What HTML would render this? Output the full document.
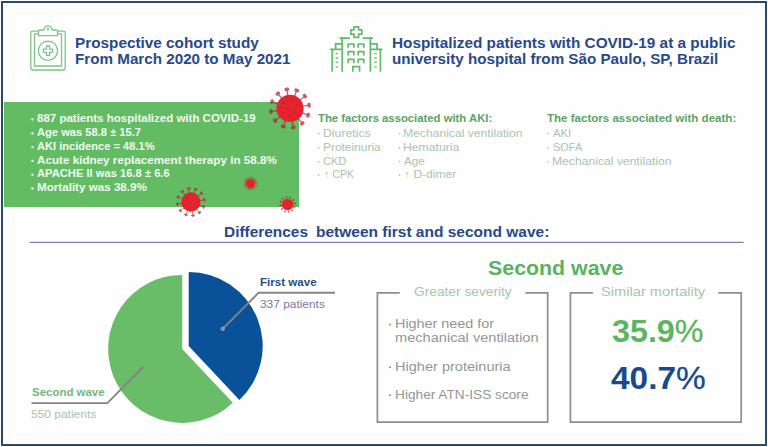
<!DOCTYPE html>
<html><head><meta charset="utf-8">
<style>
html,body{margin:0;padding:0;}
body{width:768px;height:447px;position:relative;overflow:hidden;background:#fefefe;font-family:"Liberation Sans",sans-serif;}
.tx{position:absolute;white-space:nowrap;line-height:1;transform-origin:0 0;}
#frame{position:absolute;left:1px;top:1px;width:761.8px;height:440.9px;border:2px solid #28496c;}
#gbox{position:absolute;left:4px;top:102px;width:294.5px;height:105px;background:#63bb64;}
svg.ov{position:absolute;left:0;top:0;}
.pc{font-weight:normal;-webkit-text-stroke:0.3px currentColor;}
</style></head><body>
<div id="frame"></div>
<div id="gbox"></div>
<svg class="ov" width="768" height="447" viewBox="0 0 768 447">
<defs></defs>
<!-- clipboard icon -->
<g fill="none" stroke="#7cc588" stroke-width="1.3" stroke-linejoin="round" stroke-linecap="round">
<path d="M38.4 31.2 H32.5 Q30.8 31.2 30.8 33 V68.2 Q30.8 70 32.5 70 H63.5 Q65.2 70 65.2 68.2 V33 Q65.2 31.2 63.5 31.2 H57.6"/>
<path d="M38.4 33.8 H34.5 V66 H61.5 V33.8 H57.6"/>
<path d="M38.4 35.6 V31.6 Q38.4 30 40 30 H44 Q44.3 25.8 48 25.8 Q51.7 25.8 52 30 H56 Q57.6 30 57.6 31.6 V35.6 Z"/>
<circle cx="48" cy="29" r="0.6"/>
<circle cx="48" cy="50.7" r="9.6"/>
<path d="M46.4 46 H49.6 V49.1 H52.7 V52.3 H49.6 V55.4 H46.4 V52.3 H43.3 V49.1 H46.4 Z"/>
</g>
<!-- hospital icon -->
<g fill="none" stroke="#62b96c" stroke-width="1.7" stroke-linejoin="miter" stroke-linecap="square">
<path d="M354 26.8 H358.6 V29.8 H361.8 V34.2 H358.6 V37.4 H354 V34.2 H350.8 V29.8 H354 Z" stroke-linejoin="round"/>
<path d="M349 38.2 H342.2 V71 M363.6 38.2 H370.4 V71"/>
<path d="M340.4 38.2 H342 M370.6 38.2 H372.2"/>
<path d="M342 43.8 H335.6 V49.4 M331 49.4 H342 M332.2 49.4 V71"/>
<path d="M370.6 43.8 H377 V49.4 M370.6 49.4 H381.6 M380.4 49.4 V71"/>
<path d="M348.2 47 V44 H353.8 V47 M358.2 47 V44 H363.8 V47"/>
<path d="M348.2 54.6 V51.6 H353.8 V54.6 M358.2 54.6 V51.6 H363.8 V54.6"/>
<path d="M348.2 62.4 V59.4 H353.8 V62.4 M358.2 62.4 V59.4 H363.8 V62.4"/>
<path d="M352.8 71 V66.6 H359.6 V71"/>
<path d="M336.2 53.6 H337.4 M336.2 58 H337.4 M336.2 62.4 H337.4 M336.2 66.8 H337.4 M375 53.6 H376.2 M375 58 H376.2 M375 62.4 H376.2 M375 66.8 H376.2" stroke-width="1.3"/>
</g>
<g transform="translate(290 108.4)"><g transform="scale(1.0000)"><g stroke="#b31f30" stroke-width="1.25" fill="#b31f30" stroke-linecap="round" opacity="0.72"><line x1="-2.15" y1="-12.82" x2="-3.19" y2="-19.04"/><ellipse cx="-3.19" cy="-19.04" rx="1.9" ry="1.15" transform="rotate(-9.5 -3.19 -19.04)"/><line x1="4.55" y1="-12.18" x2="6.76" y2="-18.08"/><ellipse cx="6.76" cy="-18.08" rx="1.9" ry="1.15" transform="rotate(20.5 6.76 -18.08)"/><line x1="10.03" y1="-8.27" x2="14.89" y2="-12.28"/><ellipse cx="14.89" cy="-12.28" rx="1.9" ry="1.15" transform="rotate(50.5 14.89 -12.28)"/><line x1="12.82" y1="-2.15" x2="19.04" y2="-3.19"/><ellipse cx="19.04" cy="-3.19" rx="1.9" ry="1.15" transform="rotate(80.5 19.04 -3.19)"/><line x1="12.18" y1="4.55" x2="18.08" y2="6.76"/><ellipse cx="18.08" cy="6.76" rx="1.9" ry="1.15" transform="rotate(110.5 18.08 6.76)"/><line x1="8.27" y1="10.03" x2="12.28" y2="14.89"/><ellipse cx="12.28" cy="14.89" rx="1.9" ry="1.15" transform="rotate(140.5 12.28 14.89)"/><line x1="2.15" y1="12.82" x2="3.19" y2="19.04"/><ellipse cx="3.19" cy="19.04" rx="1.9" ry="1.15" transform="rotate(170.5 3.19 19.04)"/><line x1="-4.55" y1="12.18" x2="-6.76" y2="18.08"/><ellipse cx="-6.76" cy="18.08" rx="1.9" ry="1.15" transform="rotate(200.5 -6.76 18.08)"/><line x1="-10.03" y1="8.27" x2="-14.89" y2="12.28"/><ellipse cx="-14.89" cy="12.28" rx="1.9" ry="1.15" transform="rotate(230.5 -14.89 12.28)"/><line x1="-12.82" y1="2.15" x2="-19.04" y2="3.19"/><ellipse cx="-19.04" cy="3.19" rx="1.9" ry="1.15" transform="rotate(260.5 -19.04 3.19)"/><line x1="-12.18" y1="-4.55" x2="-18.08" y2="-6.76"/><ellipse cx="-18.08" cy="-6.76" rx="1.9" ry="1.15" transform="rotate(290.5 -18.08 -6.76)"/><line x1="-8.27" y1="-10.03" x2="-12.28" y2="-14.89"/><ellipse cx="-12.28" cy="-14.89" rx="1.9" ry="1.15" transform="rotate(320.5 -12.28 -14.89)"/></g></g><g transform="scale(1.0000)"><circle r="13.6" fill="#e6242e"/><g fill="#c81f29"><circle cx="-6" cy="-6" r="1.2"/><circle cx="2" cy="-8" r="1.0"/><circle cx="7" cy="-3" r="1.1"/><circle cx="-2" cy="0" r="1.2"/><circle cx="5" cy="4" r="1.1"/><circle cx="-7" cy="4" r="1.0"/><circle cx="0" cy="8" r="1.1"/><circle cx="-9" cy="-1" r="0.8"/><circle cx="9" cy="7" r="0.8"/><circle cx="-3" cy="-11" r="0.7"/><circle cx="4" cy="10" r="0.7"/></g></g></g><g transform="translate(190.9 202.0)"><g transform="scale(0.7094)"><g stroke="#b31f30" stroke-width="1.25" fill="#b31f30" stroke-linecap="round" opacity="0.72"><line x1="-2.15" y1="-12.82" x2="-3.19" y2="-19.04"/><ellipse cx="-3.19" cy="-19.04" rx="1.9" ry="1.15" transform="rotate(-9.5 -3.19 -19.04)"/><line x1="4.55" y1="-12.18" x2="6.76" y2="-18.08"/><ellipse cx="6.76" cy="-18.08" rx="1.9" ry="1.15" transform="rotate(20.5 6.76 -18.08)"/><line x1="10.03" y1="-8.27" x2="14.89" y2="-12.28"/><ellipse cx="14.89" cy="-12.28" rx="1.9" ry="1.15" transform="rotate(50.5 14.89 -12.28)"/><line x1="12.82" y1="-2.15" x2="19.04" y2="-3.19"/><ellipse cx="19.04" cy="-3.19" rx="1.9" ry="1.15" transform="rotate(80.5 19.04 -3.19)"/><line x1="12.18" y1="4.55" x2="18.08" y2="6.76"/><ellipse cx="18.08" cy="6.76" rx="1.9" ry="1.15" transform="rotate(110.5 18.08 6.76)"/><line x1="8.27" y1="10.03" x2="12.28" y2="14.89"/><ellipse cx="12.28" cy="14.89" rx="1.9" ry="1.15" transform="rotate(140.5 12.28 14.89)"/><line x1="2.15" y1="12.82" x2="3.19" y2="19.04"/><ellipse cx="3.19" cy="19.04" rx="1.9" ry="1.15" transform="rotate(170.5 3.19 19.04)"/><line x1="-4.55" y1="12.18" x2="-6.76" y2="18.08"/><ellipse cx="-6.76" cy="18.08" rx="1.9" ry="1.15" transform="rotate(200.5 -6.76 18.08)"/><line x1="-10.03" y1="8.27" x2="-14.89" y2="12.28"/><ellipse cx="-14.89" cy="12.28" rx="1.9" ry="1.15" transform="rotate(230.5 -14.89 12.28)"/><line x1="-12.82" y1="2.15" x2="-19.04" y2="3.19"/><ellipse cx="-19.04" cy="3.19" rx="1.9" ry="1.15" transform="rotate(260.5 -19.04 3.19)"/><line x1="-12.18" y1="-4.55" x2="-18.08" y2="-6.76"/><ellipse cx="-18.08" cy="-6.76" rx="1.9" ry="1.15" transform="rotate(290.5 -18.08 -6.76)"/><line x1="-8.27" y1="-10.03" x2="-12.28" y2="-14.89"/><ellipse cx="-12.28" cy="-14.89" rx="1.9" ry="1.15" transform="rotate(320.5 -12.28 -14.89)"/></g></g><g transform="scale(0.7094)"><circle r="13.6" fill="#e6242e"/><g fill="#c81f29"><circle cx="-6" cy="-6" r="1.2"/><circle cx="2" cy="-8" r="1.0"/><circle cx="7" cy="-3" r="1.1"/><circle cx="-2" cy="0" r="1.2"/><circle cx="5" cy="4" r="1.1"/><circle cx="-7" cy="4" r="1.0"/><circle cx="0" cy="8" r="1.1"/><circle cx="-9" cy="-1" r="0.8"/><circle cx="9" cy="7" r="0.8"/><circle cx="-3" cy="-11" r="0.7"/><circle cx="4" cy="10" r="0.7"/></g></g></g><g transform="translate(250.5 183.5)"><g transform="scale(0.3202)"><g stroke="#b31f30" stroke-width="1.25" fill="#b31f30" stroke-linecap="round" opacity="0.72"><line x1="-2.15" y1="-12.82" x2="-3.19" y2="-19.04"/><ellipse cx="-3.19" cy="-19.04" rx="1.9" ry="1.15" transform="rotate(-9.5 -3.19 -19.04)"/><line x1="4.55" y1="-12.18" x2="6.76" y2="-18.08"/><ellipse cx="6.76" cy="-18.08" rx="1.9" ry="1.15" transform="rotate(20.5 6.76 -18.08)"/><line x1="10.03" y1="-8.27" x2="14.89" y2="-12.28"/><ellipse cx="14.89" cy="-12.28" rx="1.9" ry="1.15" transform="rotate(50.5 14.89 -12.28)"/><line x1="12.82" y1="-2.15" x2="19.04" y2="-3.19"/><ellipse cx="19.04" cy="-3.19" rx="1.9" ry="1.15" transform="rotate(80.5 19.04 -3.19)"/><line x1="12.18" y1="4.55" x2="18.08" y2="6.76"/><ellipse cx="18.08" cy="6.76" rx="1.9" ry="1.15" transform="rotate(110.5 18.08 6.76)"/><line x1="8.27" y1="10.03" x2="12.28" y2="14.89"/><ellipse cx="12.28" cy="14.89" rx="1.9" ry="1.15" transform="rotate(140.5 12.28 14.89)"/><line x1="2.15" y1="12.82" x2="3.19" y2="19.04"/><ellipse cx="3.19" cy="19.04" rx="1.9" ry="1.15" transform="rotate(170.5 3.19 19.04)"/><line x1="-4.55" y1="12.18" x2="-6.76" y2="18.08"/><ellipse cx="-6.76" cy="18.08" rx="1.9" ry="1.15" transform="rotate(200.5 -6.76 18.08)"/><line x1="-10.03" y1="8.27" x2="-14.89" y2="12.28"/><ellipse cx="-14.89" cy="12.28" rx="1.9" ry="1.15" transform="rotate(230.5 -14.89 12.28)"/><line x1="-12.82" y1="2.15" x2="-19.04" y2="3.19"/><ellipse cx="-19.04" cy="3.19" rx="1.9" ry="1.15" transform="rotate(260.5 -19.04 3.19)"/><line x1="-12.18" y1="-4.55" x2="-18.08" y2="-6.76"/><ellipse cx="-18.08" cy="-6.76" rx="1.9" ry="1.15" transform="rotate(290.5 -18.08 -6.76)"/><line x1="-8.27" y1="-10.03" x2="-12.28" y2="-14.89"/><ellipse cx="-12.28" cy="-14.89" rx="1.9" ry="1.15" transform="rotate(320.5 -12.28 -14.89)"/></g></g><g transform="scale(0.3529)"><circle r="13.6" fill="#e6242e"/><g fill="#c81f29"><circle cx="-6" cy="-6" r="1.2"/><circle cx="2" cy="-8" r="1.0"/><circle cx="7" cy="-3" r="1.1"/><circle cx="-2" cy="0" r="1.2"/><circle cx="5" cy="4" r="1.1"/><circle cx="-7" cy="4" r="1.0"/><circle cx="0" cy="8" r="1.1"/><circle cx="-9" cy="-1" r="0.8"/><circle cx="9" cy="7" r="0.8"/><circle cx="-3" cy="-11" r="0.7"/><circle cx="4" cy="10" r="0.7"/></g></g></g><g transform="translate(287.6 204.5)"><g transform="scale(0.3892)"><g stroke="#b31f30" stroke-width="1.25" fill="#b31f30" stroke-linecap="round" opacity="0.72"><line x1="-2.15" y1="-12.82" x2="-3.19" y2="-19.04"/><ellipse cx="-3.19" cy="-19.04" rx="1.9" ry="1.15" transform="rotate(-9.5 -3.19 -19.04)"/><line x1="4.55" y1="-12.18" x2="6.76" y2="-18.08"/><ellipse cx="6.76" cy="-18.08" rx="1.9" ry="1.15" transform="rotate(20.5 6.76 -18.08)"/><line x1="10.03" y1="-8.27" x2="14.89" y2="-12.28"/><ellipse cx="14.89" cy="-12.28" rx="1.9" ry="1.15" transform="rotate(50.5 14.89 -12.28)"/><line x1="12.82" y1="-2.15" x2="19.04" y2="-3.19"/><ellipse cx="19.04" cy="-3.19" rx="1.9" ry="1.15" transform="rotate(80.5 19.04 -3.19)"/><line x1="12.18" y1="4.55" x2="18.08" y2="6.76"/><ellipse cx="18.08" cy="6.76" rx="1.9" ry="1.15" transform="rotate(110.5 18.08 6.76)"/><line x1="8.27" y1="10.03" x2="12.28" y2="14.89"/><ellipse cx="12.28" cy="14.89" rx="1.9" ry="1.15" transform="rotate(140.5 12.28 14.89)"/><line x1="2.15" y1="12.82" x2="3.19" y2="19.04"/><ellipse cx="3.19" cy="19.04" rx="1.9" ry="1.15" transform="rotate(170.5 3.19 19.04)"/><line x1="-4.55" y1="12.18" x2="-6.76" y2="18.08"/><ellipse cx="-6.76" cy="18.08" rx="1.9" ry="1.15" transform="rotate(200.5 -6.76 18.08)"/><line x1="-10.03" y1="8.27" x2="-14.89" y2="12.28"/><ellipse cx="-14.89" cy="12.28" rx="1.9" ry="1.15" transform="rotate(230.5 -14.89 12.28)"/><line x1="-12.82" y1="2.15" x2="-19.04" y2="3.19"/><ellipse cx="-19.04" cy="3.19" rx="1.9" ry="1.15" transform="rotate(260.5 -19.04 3.19)"/><line x1="-12.18" y1="-4.55" x2="-18.08" y2="-6.76"/><ellipse cx="-18.08" cy="-6.76" rx="1.9" ry="1.15" transform="rotate(290.5 -18.08 -6.76)"/><line x1="-8.27" y1="-10.03" x2="-12.28" y2="-14.89"/><ellipse cx="-12.28" cy="-14.89" rx="1.9" ry="1.15" transform="rotate(320.5 -12.28 -14.89)"/></g></g><g transform="scale(0.4265)"><circle r="13.6" fill="#e6242e"/><g fill="#c81f29"><circle cx="-6" cy="-6" r="1.2"/><circle cx="2" cy="-8" r="1.0"/><circle cx="7" cy="-3" r="1.1"/><circle cx="-2" cy="0" r="1.2"/><circle cx="5" cy="4" r="1.1"/><circle cx="-7" cy="4" r="1.0"/><circle cx="0" cy="8" r="1.1"/><circle cx="-9" cy="-1" r="0.8"/><circle cx="9" cy="7" r="0.8"/><circle cx="-3" cy="-11" r="0.7"/><circle cx="4" cy="10" r="0.7"/></g></g></g>
<circle cx="32.4" cy="119.5" r="1.2" fill="#e4f7e4"/>
<circle cx="32.4" cy="133.3" r="1.2" fill="#e4f7e4"/>
<circle cx="32.4" cy="147.1" r="1.2" fill="#e4f7e4"/>
<circle cx="32.4" cy="160.9" r="1.2" fill="#e4f7e4"/>
<circle cx="32.4" cy="174.7" r="1.2" fill="#e4f7e4"/>
<circle cx="32.4" cy="188.5" r="1.2" fill="#e4f7e4"/>
<circle cx="318.7" cy="133.5" r="0.85" fill="#a8c5ad"/>
<circle cx="399.5" cy="133.5" r="0.85" fill="#a8c5ad"/>
<circle cx="318.7" cy="147.6" r="0.85" fill="#a8c5ad"/>
<circle cx="399.5" cy="147.6" r="0.85" fill="#a8c5ad"/>
<circle cx="318.7" cy="161.5" r="0.85" fill="#a8c5ad"/>
<circle cx="399.5" cy="161.5" r="0.85" fill="#a8c5ad"/>
<circle cx="318.7" cy="175.1" r="0.85" fill="#a8c5ad"/>
<circle cx="399.5" cy="175.1" r="0.85" fill="#a8c5ad"/>
<circle cx="548.3" cy="133.5" r="0.85" fill="#a8c5ad"/>
<circle cx="548.3" cy="147.6" r="0.85" fill="#a8c5ad"/>
<circle cx="548.3" cy="161.5" r="0.85" fill="#a8c5ad"/>
<circle cx="390" cy="324.5" r="1.0" fill="#8c8c8c"/>
<circle cx="390" cy="367.2" r="1.0" fill="#8c8c8c"/>
<circle cx="390" cy="395.3" r="1.0" fill="#8c8c8c"/>
<!-- divider -->
<rect x="29.5" y="241.8" width="714" height="1.1" fill="#6a70b0"/>
<!-- pie -->
<path d="M182.2 348.9 L232.88 402.82 A74 74 0 1 1 182.2 274.9 Z" fill="#69bd69"/>
<path d="M188.7 346.0 L188.7 272.0 A74 74 0 0 1 239.38 399.92 Z" fill="#09529a"/>
<g fill="none" stroke="#858585" stroke-width="1.9">
<polyline points="222.7,328.8 258.6,292.7 335,292.7"/>
<polyline points="143.6,366.5 107.3,403.1 31.5,403.1"/>
</g>
<circle cx="222.7" cy="328.8" r="1.7" fill="#7f93ad" stroke="#9aa3b0" stroke-width="1"/>
<!-- boxes -->
<g fill="none" stroke="#8e8e8e" stroke-width="1.7">
<polyline points="399.7,292.8 377.4,292.8 377.4,422.2 547.7,422.2 547.7,292.8 525.4,292.8"/>
<polyline points="592.9,292.8 570.4,292.8 570.4,422.2 741.2,422.2 741.2,292.8 718.3,292.8"/>
</g>
</svg>
<div class="tx" id="t1a" style="left:74.68px;top:35.65px;font-size:14.0px;font-weight:bold;color:#28498a;transform:scaleX(1.0938);">Prospective cohort study</div>
<div class="tx" id="t1b" style="left:74.68px;top:51.55px;font-size:14.0px;font-weight:bold;color:#28498a;transform:scaleX(1.0858);">From March 2020 to May 2021</div>
<div class="tx" id="t2a" style="left:391.57px;top:35.65px;font-size:14.0px;font-weight:bold;color:#28498a;transform:scaleX(1.0956);">Hospitalized patients with COVID-19 at a public</div>
<div class="tx" id="t2b" style="left:391.66px;top:51.55px;font-size:14.0px;font-weight:bold;color:#28498a;transform:scaleX(1.0847);">university hospital from São Paulo, SP, Brazil</div>
<div class="tx" id="g1" style="left:37.33px;top:114.20px;font-size:10.4px;font-weight:bold;color:#f0fcf0;transform:scaleX(1.1075);">887 patients hospitalized with COVID-19</div>
<div class="tx" id="g2" style="left:37.42px;top:128.00px;font-size:10.4px;font-weight:bold;color:#f0fcf0;transform:scaleX(1.0732);">Age was 58.8 ± 15.7</div>
<div class="tx" id="g3" style="left:37.42px;top:141.80px;font-size:10.4px;font-weight:bold;color:#f0fcf0;transform:scaleX(1.0687);">AKI incidence = 48.1%</div>
<div class="tx" id="g4" style="left:37.41px;top:155.60px;font-size:10.4px;font-weight:bold;color:#f0fcf0;transform:scaleX(1.1227);">Acute kidney replacement therapy in 58.8%</div>
<div class="tx" id="g5" style="left:37.42px;top:169.40px;font-size:10.4px;font-weight:bold;color:#f0fcf0;transform:scaleX(1.0759);">APACHE II was 16.8 ± 6.6</div>
<div class="tx" id="g6" style="left:36.92px;top:183.20px;font-size:10.4px;font-weight:bold;color:#f0fcf0;transform:scaleX(1.1191);">Mortality was 38.9%</div>
<div class="tx" id="fh1" style="left:317.87px;top:113.98px;font-size:10.3px;font-weight:bold;color:#5ca266;transform:scaleX(1.0978);">The factors associated with AKI:</div>
<div class="tx" id="fh2" style="left:546.87px;top:113.98px;font-size:10.3px;font-weight:bold;color:#5ca266;transform:scaleX(1.1211);">The factors associated with death:</div>
<div class="tx" id="f11" style="left:322.80px;top:127.51px;font-size:10.5px;font-weight:normal;color:#a8c5ad;transform:scaleX(1.1666);">Diuretics</div>
<div class="tx" id="f12" style="left:322.82px;top:141.61px;font-size:10.5px;font-weight:normal;color:#a8c5ad;transform:scaleX(1.1358);">Proteinuria</div>
<div class="tx" id="f13" style="left:323.24px;top:155.51px;font-size:10.5px;font-weight:normal;color:#a8c5ad;transform:scaleX(1.0503);">CKD</div>
<div class="tx" id="f14" style="left:324.09px;top:169.11px;font-size:10.5px;font-weight:normal;color:#a8c5ad;transform:scaleX(1.0087);">↑ CPK</div>
<div class="tx" id="f21" style="left:403.30px;top:127.51px;font-size:10.5px;font-weight:normal;color:#a8c5ad;transform:scaleX(1.1565);">Mechanical ventilation</div>
<div class="tx" id="f22" style="left:403.30px;top:141.61px;font-size:10.5px;font-weight:normal;color:#a8c5ad;transform:scaleX(1.1602);">Hematuria</div>
<div class="tx" id="f23" style="left:404.28px;top:155.51px;font-size:10.5px;font-weight:normal;color:#a8c5ad;transform:scaleX(1.1099);">Age</div>
<div class="tx" id="f24" style="left:404.40px;top:169.11px;font-size:10.5px;font-weight:normal;color:#a8c5ad;transform:scaleX(1.1491);">↑ D-dimer</div>
<div class="tx" id="f31" style="left:553.28px;top:127.51px;font-size:10.5px;font-weight:normal;color:#a8c5ad;transform:scaleX(1.0785);">AKI</div>
<div class="tx" id="f32" style="left:552.80px;top:141.61px;font-size:10.5px;font-weight:normal;color:#a8c5ad;transform:scaleX(1.0429);">SOFA</div>
<div class="tx" id="f33" style="left:552.30px;top:155.51px;font-size:10.5px;font-weight:normal;color:#a8c5ad;transform:scaleX(1.1565);">Mechanical ventilation</div>
<div class="tx" id="dh1" style="left:224.17px;top:224.74px;font-size:14.6px;font-weight:bold;color:#28498a;transform:scaleX(1.0562);">Differences</div>
<div class="tx" id="dh2" style="left:316.28px;top:224.74px;font-size:14.6px;font-weight:bold;color:#28498a;transform:scaleX(1.0616);">between first and second wave:</div>
<div class="tx" id="fw" style="left:259.63px;top:277.23px;font-size:10.6px;font-weight:bold;color:#2b4b88;transform:scaleX(1.0915);">First wave</div>
<div class="tx" id="fwp" style="left:260.35px;top:298.63px;font-size:10.6px;font-weight:normal;color:#767b9f;transform:scaleX(1.1238);">337 patients</div>
<div class="tx" id="sw" style="left:31.57px;top:387.01px;font-size:10.5px;font-weight:bold;color:#74b77d;transform:scaleX(1.0915);">Second wave</div>
<div class="tx" id="swp" style="left:31.42px;top:409.33px;font-size:10.6px;font-weight:normal;color:#a8c5ad;transform:scaleX(1.1295);">550 patients</div>
<div class="tx" id="swh" style="left:487.68px;top:258.91px;font-size:19.6px;font-weight:bold;color:#5bb160;transform:scaleX(1.0901);">Second wave</div>
<div class="tx" id="gs" style="left:413.81px;top:285.84px;font-size:12px;font-weight:normal;color:#a8c5ad;transform:scaleX(1.1448);">Greater severity</div>
<div class="tx" id="sm" style="left:601.33px;top:285.84px;font-size:12px;font-weight:normal;color:#a8c5ad;transform:scaleX(1.2209);">Similar mortality</div>
<div class="tx" id="h1" style="left:394.82px;top:318.04px;font-size:12px;font-weight:normal;color:#969696;transform:scaleX(1.1983);">Higher need for</div>
<div class="tx" id="h2" style="left:395.03px;top:332.14px;font-size:12px;font-weight:normal;color:#969696;transform:scaleX(1.2163);">mechanical ventilation</div>
<div class="tx" id="h3" style="left:394.81px;top:360.74px;font-size:12px;font-weight:normal;color:#969696;transform:scaleX(1.2128);">Higher proteinuria</div>
<div class="tx" id="h4" style="left:394.88px;top:388.84px;font-size:12px;font-weight:normal;color:#969696;transform:scaleX(1.1398);">Higher ATN-ISS score</div>
<div class="tx" id="p1" style="left:611.96px;top:316.16px;font-size:31px;font-weight:bold;color:#5cb560;transform:scaleX(1.0406);">35.9<span class="pc">%</span></div>
<div class="tx" id="p2" style="left:610.69px;top:363.26px;font-size:31px;font-weight:bold;color:#174b8b;transform:scaleX(1.0770);">40.7<span class="pc">%</span></div>
</body></html>
